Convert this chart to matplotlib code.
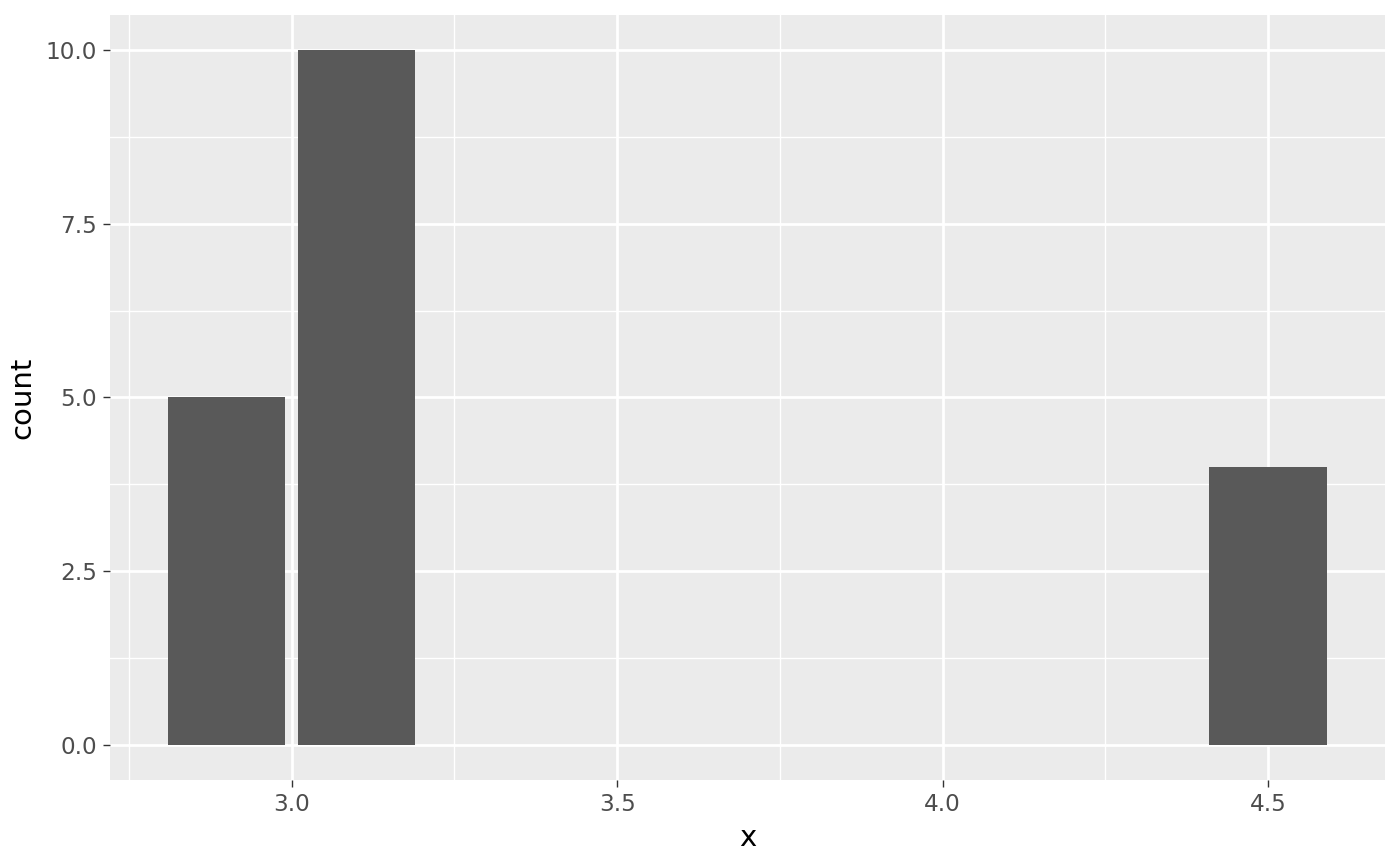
import matplotlib
matplotlib.use("Agg")
import matplotlib.pyplot as plt

# Data
x_centers = [2.9, 3.1, 4.5]
counts = [5, 10, 4]
bar_width = 0.18
x_ticks = [3.0, 3.5, 4.0, 4.5]
x_ticklabels = ["3.0", "3.5", "4.0", "4.5"]
y_ticks = [0.0, 2.5, 5.0, 7.5, 10.0]
y_ticklabels = ["0.0", "2.5", "5.0", "7.5", "10.0"]
x_minor = [2.75, 3.25, 3.75, 4.25]
y_minor = [1.25, 3.75, 6.25, 8.75]

fig = plt.figure(figsize=(7, 4.33), dpi=200)
ax = fig.add_axes([0.0786, 0.0993, 0.9104, 0.8834])
ax.set_facecolor("#EBEBEB")

ax.bar(x_centers, counts, width=bar_width, color="#595959", zorder=3)

xmin = min(x_centers) - bar_width / 2
xmax = max(x_centers) + bar_width / 2
xr = xmax - xmin
ax.set_xlim(xmin - 0.05 * xr, xmax + 0.05 * xr)
ymax = max(counts)
ax.set_ylim(-0.05 * ymax, ymax * 1.05)

ax.set_xticks(x_ticks)
ax.set_xticklabels(x_ticklabels)
ax.set_yticks(y_ticks)
ax.set_yticklabels(y_ticklabels)
ax.set_xticks(x_minor, minor=True)
ax.set_yticks(y_minor, minor=True)

ax.grid(which="major", color="white", linewidth=1.0, zorder=1)
ax.grid(which="minor", color="white", linewidth=0.5, zorder=1)
ax.set_axisbelow(True)

for s in ax.spines.values():
    s.set_visible(False)

ax.tick_params(which="major", length=2.6, width=0.5, color="#333333",
               labelsize=8.35, labelcolor="#4D4D4D", pad=2.2)
ax.tick_params(which="minor", length=0)

ax.set_xlabel("x", fontsize=10.5, color="black", labelpad=2.6)
ax.set_ylabel("count", fontsize=10.5, color="black", labelpad=3.2)

fig.savefig("out.png", dpi=200, facecolor="white")
